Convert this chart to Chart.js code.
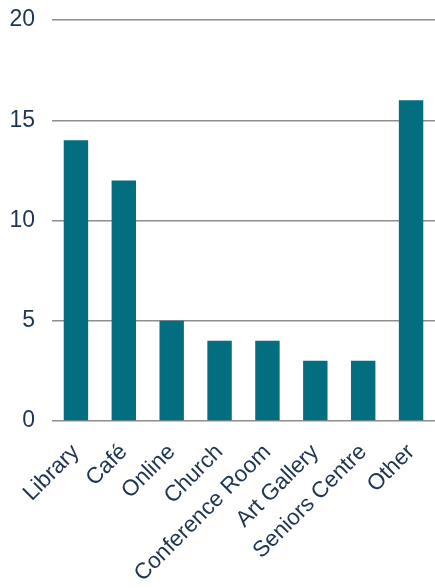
<!DOCTYPE html>
<html>
<head>
<meta charset="utf-8">
<script src="https://cdn.jsdelivr.net/npm/chart.js@4/dist/chart.umd.min.js"></script>
<style>
  html, body { margin: 0; padding: 0; background: #fff; }
  #wrap { width: 435px; height: 588px; }
</style>
</head>
<body>
<div id="wrap"><canvas id="myChart" width="435" height="588"></canvas></div>
<script>
const venues = ["Library", "Café", "Online", "Church", "Conference Room", "Art Gallery", "Seniors Centre", "Other"];
const counts = [14, 12, 5, 4, 4, 3, 3, 16];
const yTicks = [0, 5, 10, 15, 20];

const textColor = "#1F3552";

const ctx = document.getElementById("myChart").getContext("2d");
const chart = new Chart(ctx, {
  type: "bar",
  data: {
    labels: venues,
    datasets: [
      {
        data: counts,
        backgroundColor: "#036E7F",
        barPercentage: 0.51,
        categoryPercentage: 1.0,
      },
    ],
  },
  options: {
    responsive: false,
    animation: false,
    layout: { padding: { top: 20, right: 0, left: 0, bottom: 0 } },
    plugins: {
      legend: { display: false },
      tooltip: { enabled: false },
    },
    scales: {
      x: {
        grid: { display: false, drawTicks: false },
        border: { display: false },
        ticks: {
          color: textColor,
          font: { family: "'Liberation Sans', Arial", size: 22.5 },
          minRotation: 45,
          maxRotation: 45,
          autoSkip: false,
          padding: 18,
        },
        afterFit: (scale) => {
          scale.height = 167;
          scale.paddingLeft = 0;
          scale.paddingRight = 0;
        },
      },
      y: {
        min: 0,
        max: 20,
        afterBuildTicks: (scale) => { scale.ticks = yTicks.map((v) => ({ value: v })); },
        grid: { color: "#8E8E8E", lineWidth: 1.5, drawTicks: false },
        border: { display: false },
        ticks: {
          color: textColor,
          font: { family: "'Liberation Sans', Arial", size: 23 },
          padding: 17,
        },
        afterFit: (scale) => {
          scale.width = 52;
          scale.paddingTop = 0;
          scale.paddingBottom = 0;
        },
      },
    },
  },
});
</script>
</body>
</html>
